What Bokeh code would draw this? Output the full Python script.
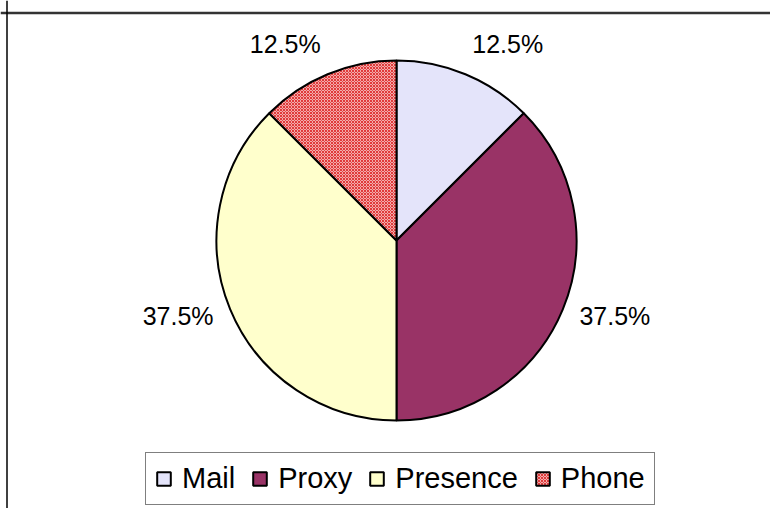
import math
from bokeh.plotting import figure
from bokeh.models import Range1d, ColumnDataSource, Legend, LegendItem, Span
from bokeh.core.properties import value
from bokeh.embed import file_html
from bokeh.resources import INLINE

categories = ["Mail", "Proxy", "Presence", "Phone"]
shares = [12.5, 37.5, 37.5, 12.5]
labels = ["12.5%", "37.5%", "37.5%", "12.5%"]

fills = ["#E4E4FA", "#993366", "#FFFFCC", "#F3ABAB"]
hatches = [" ", " ", " ", "diagonal_cross"]
hatch_colors = ["#C8C8F0", "#993366", "#FFFFCC", "#E03A3A"]

W, H = 770, 508
CX, CY, R = 396, 268, 180

p = figure(width=W, height=H, output_backend="svg", toolbar_location=None,
           x_range=Range1d(0, W), y_range=Range1d(0, H), min_border=0,
           tools="")
p.axis.visible = False
p.grid.visible = False
p.outline_line_color = None
p.background_fill_color = "white"

total = sum(shares)
cum = [0]
for s in shares:
    cum.append(cum[-1] + s / total)
start = [math.pi / 2 - 2 * math.pi * cum[i + 1] for i in range(len(shares))]
end = [math.pi / 2 - 2 * math.pi * cum[i] for i in range(len(shares))]
mid = [(a + b) / 2 for a, b in zip(start, end)]

renderers = []
for i, c in enumerate(categories):
    r = p.wedge(x=CX, y=CY, radius=R, start_angle=start[i], end_angle=end[i],
                fill_color=fills[i], line_color="black", line_width=2,
                hatch_pattern=hatches[i], hatch_color=hatch_colors[i],
                hatch_scale=3, hatch_weight=1)
    renderers.append(r)

# labels
LR = R * 1.1
lx = [CX + LR * math.cos(m) for m in mid]
ly = [CY + LR * math.sin(m) for m in mid]
align = ["left" if math.cos(m) > 0 else "right" for m in mid]
base = ["bottom" if math.sin(m) > 0.5 else "middle" for m in mid]
src = ColumnDataSource(dict(x=lx, y=ly, t=labels, a=align, b=base))
p.text(x="x", y="y", text="t", text_align="a", text_baseline="b", source=src,
       text_font=value("Liberation Sans"), text_font_size="25px", text_color="black")

# chart area border (top and left)
p.add_layout(Span(location=H - 12.5, dimension="width", line_color="#333333", line_width=2.5))
p.add_layout(Span(location=6.5, dimension="height", line_color="black", line_width=1.5))

legend = Legend(items=[LegendItem(label=c, renderers=[r]) for c, r in zip(categories, renderers)],
                orientation="horizontal", location=(145, 3),
                label_text_font="Liberation Sans", label_text_font_size="29px",
                label_text_color="black",
                glyph_width=17, glyph_height=17, spacing=16, padding=9, margin=0,
                label_standoff=10, border_line_color="black", border_line_width=1.5,
                background_fill_alpha=1)
p.add_layout(legend, "center")

open("out.html", "w").write(file_html(p, INLINE))
